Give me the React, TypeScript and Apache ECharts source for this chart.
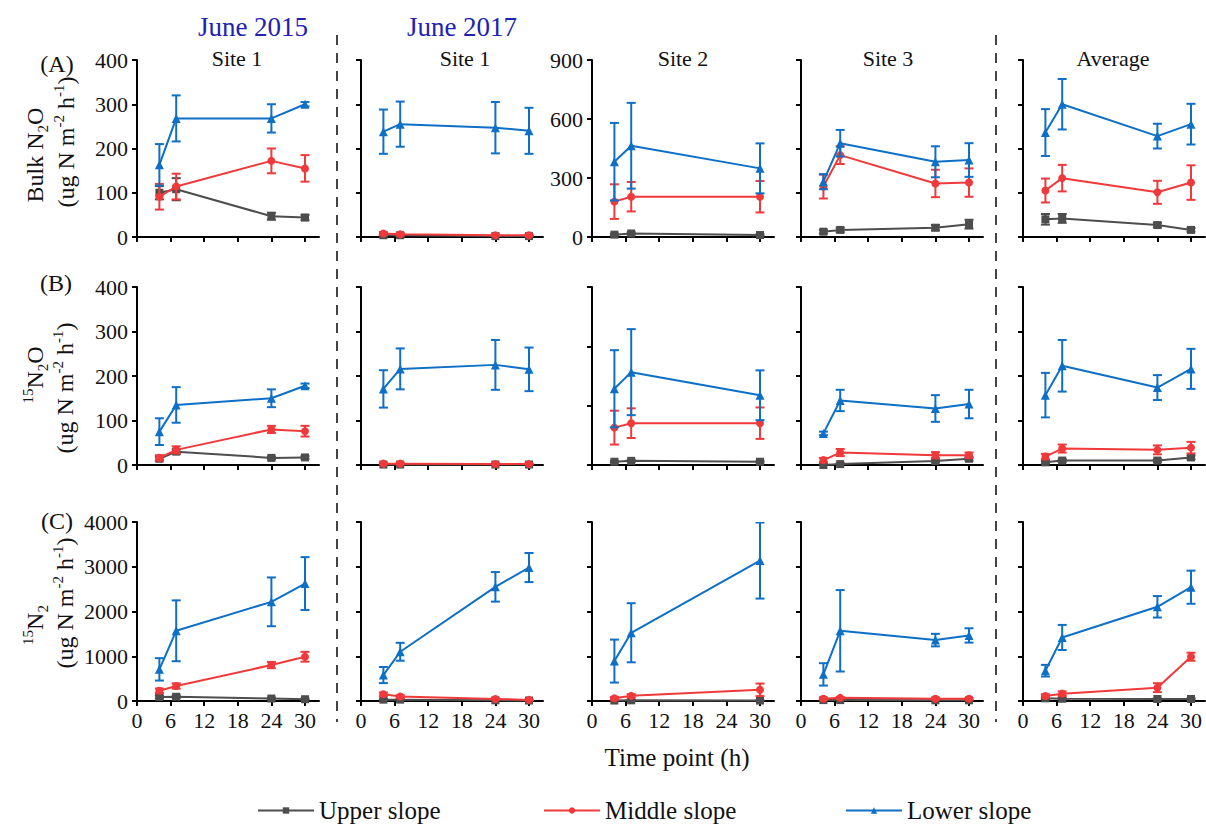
import React, { useEffect, useRef } from 'react';
import * as echarts from 'echarts';

// ---------- data ----------
const hours = [4, 7, 24, 30];
const hoursSite2 = [4, 7, 30];
const panelHours = [hours, hours, hoursSite2, hours, hours];
const xTicks = [0, 6, 12, 18, 24, 30];

const columnTitles = ['Site 1', 'Site 1', 'Site 2', 'Site 3', 'Average'];
const yearLabels = ['June 2015', 'June 2017'];
const rowLetters = ['(A)', '(B)', '(C)'];
const slopeNames = ['Upper slope', 'Middle slope', 'Lower slope'];

// Row A: Bulk N2O (panels: 2015 Site1, 2017 Site1, Site2, Site3, Average)
const bulkUpper = [[100, 108, 47, 44], [4, 4, 2, 2], [12, 18, 10], [12, 16, 21, 29], [40, 42, 27, 16]];
const bulkUpperErr = [[15, 25, 8, 6], [2, 2, 1, 1], [5, 6, 4], [4, 5, 6, 10], [12, 10, 5, 4]];
const bulkMiddle = [[91, 114, 172, 155], [8, 6, 4, 4], [180, 205, 205], [114, 185, 121, 123], [105, 133, 101, 123]];
const bulkMiddleErr = [[29, 29, 28, 30], [3, 3, 2, 2], [88, 75, 80], [27, 20, 31, 32], [27, 30, 26, 39]];
const bulkLower = [[163, 268, 268, 300], [238, 255, 247, 240], [383, 464, 349], [125, 212, 170, 174], [236, 300, 228, 255]];
const bulkLowerErr = [[47, 52, 32, 5], [50, 51, 58, 52], [197, 218, 127], [17, 30, 35, 38], [53, 57, 28, 46]];

// Row B: 15N2O
const n2oUpper = [[14, 30, 16, 17], [1, 1, 1, 1], [11, 14, 11], [0, 2, 9, 14], [6, 10, 10, 17]];
const n2oUpperErr = [[4, 5, 3, 3], [1, 1, 1, 1], [3, 3, 3], [2, 2, 3, 4], [3, 3, 3, 4]];
const n2oMiddle = [[16, 34, 80, 76], [3, 3, 2, 2], [126, 141, 141], [11, 28, 22, 22], [19, 37, 34, 39]];
const n2oMiddleErr = [[6, 8, 8, 12], [2, 2, 2, 2], [57, 50, 53], [5, 8, 7, 6], [6, 9, 10, 13]];
const n2oLower = [[75, 135, 150, 178], [171, 216, 225, 215], [257, 313, 235], [71, 145, 127, 137], [157, 223, 174, 216]];
const n2oLowerErr = [[30, 40, 20, 5], [42, 46, 56, 49], [130, 145, 84], [4, 24, 30, 32], [50, 58, 28, 45]];

// Row C: 15N2
const n2Upper = [[90, 95, 55, 40], [30, 30, 15, 10], [10, 15, 10], [20, 20, 15, 15], [60, 50, 45, 45]];
const n2UpperErr = [[30, 30, 20, 15], [10, 10, 5, 5], [5, 5, 5], [10, 10, 5, 5], [20, 15, 15, 15]];
const n2Middle = [[230, 335, 803, 989], [150, 100, 45, 25], [60, 115, 250], [50, 70, 50, 50], [112, 164, 298, 989]];
const n2MiddleErr = [[50, 60, 70, 110], [40, 30, 15, 10], [30, 40, 140], [20, 20, 20, 20], [40, 50, 100, 90]];
const n2Lower = [[707, 1569, 2216, 2625], [580, 1100, 2551, 2982], [892, 1525, 3139], [595, 1569, 1361, 1465], [677, 1420, 2105, 2543]];
const n2LowerErr = [[250, 680, 545, 590], [180, 200, 330, 325], [480, 660, 850], [250, 910, 140, 160], [130, 280, 240, 370]];

const rowMax = [[400, 400, 900, 400, 400], [400, 400, 600, 400, 400], [4000, 4000, 4000, 4000, 4000]];
const rowInterval = [[100, 100, 300, 100, 100], [100, 100, 200, 100, 100], [1000, 1000, 1000, 1000, 1000]];

const rowMeans = [
  [bulkUpper, bulkMiddle, bulkLower],
  [n2oUpper, n2oMiddle, n2oLower],
  [n2Upper, n2Middle, n2Lower],
];
const rowErrs = [
  [bulkUpperErr, bulkMiddleErr, bulkLowerErr],
  [n2oUpperErr, n2oMiddleErr, n2oLowerErr],
  [n2UpperErr, n2MiddleErr, n2LowerErr],
];

// ---------- styling / layout ----------
const FONT = 'Liberation Serif';
const colors = ['#4d4d4d', '#f0393b', '#0d6fc6'];
const symbols = ['rect', 'circle', 'triangle'];
const symbolSizes = [8, 8, 9];
const colLeft = [137, 361, 592, 801, 1023];
const rowTop = [60, 287, 522];
const rowHeight = [177, 178, 179];
const gridWidth = 182;

function buildOption() {
  const grid: any[] = [];
  const xAxis: any[] = [];
  const yAxis: any[] = [];
  const series: any[] = [];
  const axisLineStyle = { color: '#000', width: 2 };

  for (let r = 0; r < 3; r++) {
    for (let c = 0; c < 5; c++) {
      const idx = r * 5 + c;
      grid.push({ left: colLeft[c], top: rowTop[r], width: gridWidth, height: rowHeight[r] });
      xAxis.push({
        type: 'value', gridIndex: idx, min: 0, max: 32.5,
        axisLine: { show: true, lineStyle: axisLineStyle },
        axisTick: { show: true, length: 5, customValues: xTicks, lineStyle: axisLineStyle },
        axisLabel: {
          show: r === 2, customValues: xTicks, fontSize: 22, fontFamily: FONT, color: '#111', margin: 8,
          formatter: (v: number) => String(v),
        },
        splitLine: { show: false },
      });
      yAxis.push({
        type: 'value', gridIndex: idx, min: 0, max: rowMax[r][c], interval: rowInterval[r][c],
        axisLine: { show: true, lineStyle: axisLineStyle },
        axisTick: { show: true, length: 5, lineStyle: axisLineStyle },
        axisLabel: {
          show: c === 0 || (r === 0 && c === 2), fontSize: 22, fontFamily: FONT, color: '#111', margin: 9,
          formatter: (v: number) => String(v),
        },
        splitLine: { show: false },
      });
      const hrs = panelHours[c];
      for (let s = 0; s < 3; s++) {
        const m = rowMeans[r][s][c];
        const e = rowErrs[r][s][c];
        const color = colors[s];
        series.push({
          type: 'custom', name: 'err-' + s, xAxisIndex: idx, yAxisIndex: idx, silent: true, z: 2 + s * 2,
          clip: true,
          data: hrs.map((h, i) => [h, m[i] - e[i], m[i] + e[i]]),
          renderItem: (params: any, api: any) => {
            const x = api.value(0);
            const p1 = api.coord([x, api.value(2)]);
            const p2 = api.coord([x, api.value(1)]);
            const w = 4.5;
            const st = { stroke: color, lineWidth: 2 };
            return {
              type: 'group',
              children: [
                { type: 'line', shape: { x1: p1[0], y1: p1[1], x2: p2[0], y2: p2[1] }, style: st },
                { type: 'line', shape: { x1: p1[0] - w, y1: p1[1], x2: p1[0] + w, y2: p1[1] }, style: st },
                { type: 'line', shape: { x1: p2[0] - w, y1: p2[1], x2: p2[0] + w, y2: p2[1] }, style: st },
              ],
            };
          },
        });
        series.push({
          type: 'line', name: slopeNames[s], xAxisIndex: idx, yAxisIndex: idx, z: 3 + s * 2,
          data: hrs.map((h, i) => [h, m[i]]),
          symbol: symbols[s], symbolSize: symbolSizes[s], showSymbol: true,
          lineStyle: { width: 2, color }, itemStyle: { color },
          emphasis: { disabled: true },
        });
      }
    }
  }

  const txt = (x: number, y: number, text: string, size: number, fill = '#111') => ({
    type: 'text', x, y, silent: true,
    style: { text, fontSize: size, fontFamily: FONT, fill, align: 'center', verticalAlign: 'middle' },
  });
  const rich = {
    a: { fontSize: 24, fontFamily: FONT, lineHeight: 30, fill: '#111', color: '#111' },
    b: { fontSize: 15, fontFamily: FONT, lineHeight: 14, verticalAlign: 'bottom', fill: '#111', color: '#111' },
    p: { fontSize: 15, fontFamily: FONT, lineHeight: 12, verticalAlign: 'top', fill: '#111', color: '#111' },
  };
  const rot = (x: number, y: number, text: string) => ({
    type: 'text', x, y, rotation: Math.PI / 2, silent: true,
    style: { text, rich, fontSize: 24, fontFamily: FONT, fill: '#111', align: 'center', verticalAlign: 'middle' },
  });
  const unit = '{a|(ug N m}{p|-2}{a| h}{p|-1}{a|)}';
  const dash = (x: number) => ({
    type: 'line', silent: true,
    shape: { x1: x, y1: 35, x2: x, y2: 722 },
    style: { stroke: '#444', lineWidth: 2, lineDash: [10, 8] },
  });

  const graphic = [
    txt(253, 27, yearLabels[0], 27, '#2121b3'),
    txt(462, 27, yearLabels[1], 27, '#2121b3'),
    txt(237, 58, columnTitles[0], 22),
    txt(465, 58, columnTitles[1], 22),
    txt(683, 58, columnTitles[2], 22),
    txt(888, 58, columnTitles[3], 22),
    txt(1113, 58, columnTitles[4], 22),
    txt(57, 64, rowLetters[0], 24),
    txt(56, 283, rowLetters[1], 24),
    txt(57, 521, rowLetters[2], 24),
    txt(677, 757, 'Time point (h)', 25),
    rot(35, 155, '{a|Bulk N}{b|2}{a|O}'),
    rot(66, 142, unit),
    rot(35, 375, '{p|15}{a|N}{b|2}{a|O}'),
    rot(65, 388, unit),
    rot(35, 625, '{p|15}{a|N}{b|2}'),
    rot(65, 603, unit),
    dash(337),
    dash(996),
  ];

  const legendBase = {
    itemWidth: 56, itemHeight: 8, top: 793,
    textStyle: { fontSize: 25, fontFamily: FONT, color: '#111' },
    selectedMode: false,
  };
  const legend = [
    { ...legendBase, left: 252, data: [slopeNames[0]] },
    { ...legendBase, left: 538, data: [slopeNames[1]] },
    { ...legendBase, left: 840, data: [slopeNames[2]] },
  ];

  return {
    animation: false,
    backgroundColor: '#fff',
    textStyle: { fontFamily: FONT },
    grid, xAxis, yAxis, series, graphic, legend,
  };
}

export default function App() {
  const ref = useRef<HTMLDivElement>(null);
  useEffect(() => {
    if (!ref.current) return;
    const chart = echarts.init(ref.current, undefined, { renderer: 'svg' });
    chart.setOption(buildOption() as any);
    return () => chart.dispose();
  }, []);
  return (
    <div
      ref={ref}
      style={{ position: 'fixed', left: 0, top: 0, width: 1206, height: 825, background: '#fff' }}
    />
  );
}
